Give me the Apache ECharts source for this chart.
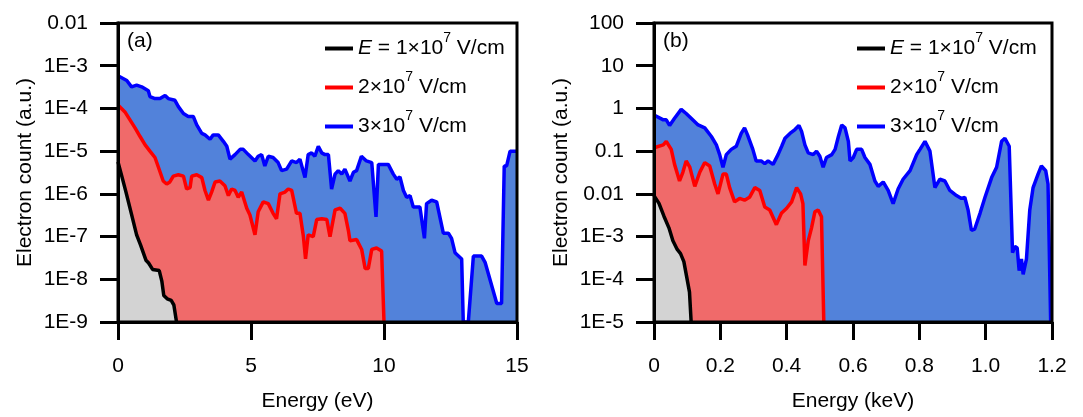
<!DOCTYPE html>
<html>
<head>
<meta charset="utf-8">
<script src="https://cdn.jsdelivr.net/npm/echarts@6/dist/echarts.min.js"></script>
<style>
  html, body { margin: 0; padding: 0; background: #fff; }
  #chart { width: 1083px; height: 417px; }
</style>
</head>
<body>
<div id="chart"></div>
<script>
// 面板 (a): 能量 (eV) 与电子计数
const leftBlueE = [0, 0.33, 0.51, 0.70, 0.89, 1.14, 1.20, 1.39, 1.58, 1.77, 1.89, 2.14, 2.27, 2.46, 2.64, 2.83, 2.96, 3.15, 3.27, 3.46, 3.58, 3.77, 3.96, 4.09, 4.21, 4.40, 4.59, 4.71, 4.90, 5.15, 5.27, 5.40, 5.52, 5.65, 5.83, 6.02, 6.15, 6.34, 6.53, 6.71, 6.84, 7.03, 7.15, 7.28, 7.40, 7.53, 7.66, 7.78, 7.91, 8.03, 8.16, 8.28, 8.41, 8.53, 8.72, 8.85, 8.97, 9.15, 9.34, 9.54, 9.70, 9.79, 10.16, 10.35, 10.48, 10.60, 10.73, 10.85, 10.98, 11.10, 11.35, 11.52, 11.60, 11.79, 11.98, 12.23, 12.42, 12.54, 12.67, 12.92, 12.98, 13.17, 13.36, 13.67, 13.80, 14.24, 14.42, 14.52, 14.61, 14.74, 14.92, 15];
const leftBlueN = [5.8e-4, 4.5e-4, 3.2e-4, 3.5e-4, 3.2e-4, 2.6e-4, 1.9e-4, 1.7e-4, 1.7e-4, 2.0e-4, 1.7e-4, 1.55e-4, 1.1e-4, 7.6e-5, 6.5e-5, 6.5e-5, 4.1e-5, 2.6e-5, 2.4e-5, 1.9e-5, 2.4e-5, 2.4e-5, 1.7e-5, 1.3e-5, 6.5e-6, 8.3e-6, 1.1e-5, 1.1e-5, 8.3e-6, 5.9e-6, 7.6e-6, 8.3e-6, 4.5e-6, 7.6e-6, 7.1e-6, 5.4e-6, 3.5e-6, 3.8e-6, 5.9e-6, 5.4e-6, 6.5e-6, 2.4e-6, 8.3e-6, 9.1e-6, 7.6e-6, 1.3e-5, 9.1e-6, 8.3e-6, 8.3e-6, 1.3e-6, 2.9e-6, 3.5e-6, 2.9e-6, 3.8e-6, 2.0e-6, 3.2e-6, 3.5e-6, 7.6e-6, 5.9e-6, 5.4e-6, 2.9e-7, 4.9e-6, 4.9e-6, 2.9e-6, 2.2e-6, 2.5e-6, 1.2e-6, 8.3e-7, 9.1e-7, 4.9e-7, 4.9e-7, 9.1e-8, 5.9e-7, 7.1e-7, 6.5e-7, 1.2e-7, 1.2e-7, 9.1e-8, 4.2e-8, 3.0e-8, 1e-9, 1e-9, 3.5e-8, 3.5e-8, 2.5e-8, 2.7e-9, 2.7e-9, 4.5e-6, 4.5e-6, 1e-5, 1e-5, 1e-5];

const leftRedE = [0, 0.26, 0.45, 0.64, 0.83, 1.02, 1.20, 1.39, 1.52, 1.70, 1.83, 1.95, 2.08, 2.27, 2.46, 2.58, 2.71, 2.77, 2.96, 3.15, 3.27, 3.40, 3.52, 3.65, 3.83, 4.02, 4.15, 4.27, 4.40, 4.52, 4.65, 4.84, 4.96, 5.15, 5.27, 5.46, 5.65, 5.83, 5.96, 6.09, 6.28, 6.40, 6.53, 6.71, 6.84, 6.97, 7.05, 7.15, 7.34, 7.47, 7.66, 7.85, 7.97, 8.16, 8.35, 8.53, 8.66, 8.72, 8.97, 9.16, 9.29, 9.41, 9.54, 9.72, 9.91, 10.0];
const leftRedN = [1.2e-4, 8.3e-5, 5.4e-5, 3.5e-5, 2.2e-5, 1.4e-5, 1.0e-5, 7.1e-6, 4.2e-6, 2.0e-6, 1.7e-6, 1.9e-6, 2.6e-6, 2.8e-6, 2.6e-6, 1.3e-6, 1.4e-6, 2.6e-6, 2.8e-6, 2.4e-6, 1.2e-6, 7.1e-7, 1.1e-6, 1.9e-6, 2.0e-6, 1.55e-6, 9.1e-7, 1.3e-6, 1.2e-6, 8.3e-7, 1.1e-6, 4.6e-7, 3.2e-7, 1.1e-7, 3.8e-7, 6.5e-7, 5.9e-7, 3.5e-7, 2.6e-7, 1.0e-6, 1.1e-6, 1.3e-6, 1.2e-6, 3.5e-7, 3.5e-7, 1.0e-7, 3.0e-8, 1.1e-7, 1.0e-7, 2.5e-7, 2.6e-7, 2.5e-7, 1.0e-7, 4.2e-7, 4.6e-7, 3.5e-7, 1.4e-7, 8.0e-8, 8.5e-8, 5.0e-8, 1.8e-8, 1.8e-8, 5.0e-8, 5.4e-8, 4.6e-8, 1e-9];

const leftBlackE = [0, 0.15, 0.30, 0.50, 0.70, 0.85, 1.05, 1.15, 1.22, 1.30, 1.55, 1.65, 1.72, 1.85, 2.00, 2.10, 2.20];
const leftBlackN = [5.6e-6, 2.5e-6, 1.1e-6, 3.5e-7, 1.1e-7, 6.3e-8, 2.8e-8, 2.4e-8, 2.6e-8, 1.7e-8, 1.6e-8, 8.9e-9, 4.2e-9, 3.5e-9, 3.2e-9, 2.5e-9, 1e-9];

// 面板 (b): 能量 (keV) 与电子计数
const rightBlueE = [0, 0.028, 0.037, 0.047, 0.062, 0.082, 0.097, 0.112, 0.133, 0.153, 0.173, 0.188, 0.198, 0.208, 0.218, 0.233, 0.248, 0.263, 0.273, 0.282, 0.298, 0.308, 0.323, 0.334, 0.344, 0.359, 0.374, 0.385, 0.395, 0.41, 0.425, 0.437, 0.445, 0.455, 0.465, 0.48, 0.49, 0.50, 0.51, 0.52, 0.536, 0.546, 0.556, 0.566, 0.576, 0.586, 0.591, 0.601, 0.611, 0.626, 0.636, 0.651, 0.666, 0.676, 0.691, 0.706, 0.721, 0.736, 0.751, 0.772, 0.792, 0.802, 0.817, 0.832, 0.847, 0.862, 0.877, 0.892, 0.912, 0.927, 0.937, 0.947, 0.957, 0.967, 0.983, 0.998, 1.018, 1.033, 1.048, 1.058, 1.071, 1.081, 1.088, 1.095, 1.101, 1.108, 1.113, 1.123, 1.133, 1.143, 1.158, 1.168, 1.181, 1.188, 1.196, 1.2];
const rightBlueN = [0.70, 0.54, 0.54, 0.40, 0.59, 0.95, 0.76, 0.59, 0.41, 0.35, 0.22, 0.14, 0.083, 0.042, 0.083, 0.11, 0.13, 0.26, 0.35, 0.24, 0.11, 0.059, 0.059, 0.051, 0.059, 0.049, 0.083, 0.13, 0.2, 0.26, 0.32, 0.4, 0.29, 0.14, 0.091, 0.083, 0.1, 0.076, 0.042, 0.071, 0.083, 0.11, 0.22, 0.41, 0.35, 0.17, 0.059, 0.071, 0.11, 0.11, 0.071, 0.049, 0.02, 0.015, 0.019, 0.012, 0.0059, 0.013, 0.022, 0.035, 0.083, 0.11, 0.17, 0.1, 0.014, 0.022, 0.02, 0.012, 0.0091, 0.0078, 0.0083, 0.0042, 0.0014, 0.0015, 0.0035, 0.0083, 0.024, 0.042, 0.17, 0.2, 0.13, 4.2e-4, 5.9e-4, 5.4e-4, 1.6e-4, 3.0e-4, 1.3e-4, 3.0e-4, 0.0042, 0.014, 0.029, 0.045, 0.035, 0.017, 1e-5, 1e-5];

const rightRedE = [0, 0.028, 0.037, 0.052, 0.062, 0.077, 0.087, 0.097, 0.108, 0.123, 0.138, 0.153, 0.168, 0.183, 0.193, 0.208, 0.218, 0.228, 0.243, 0.258, 0.273, 0.288, 0.304, 0.319, 0.334, 0.349, 0.369, 0.384, 0.40, 0.415, 0.43, 0.442, 0.449, 0.455, 0.465, 0.475, 0.485, 0.495, 0.505, 0.512];
const rightRedN = [0.12, 0.14, 0.17, 0.11, 0.049, 0.02, 0.032, 0.059, 0.042, 0.015, 0.032, 0.054, 0.045, 0.017, 0.01, 0.029, 0.029, 0.014, 0.0065, 0.0078, 0.0071, 0.0083, 0.014, 0.012, 0.0049, 0.0042, 0.0019, 0.0035, 0.0046, 0.0065, 0.014, 0.01, 0.0059, 2.1e-4, 7.9e-4, 0.0016, 0.0038, 0.0042, 0.0029, 1e-5];

const rightBlackE = [0, 0.015, 0.03, 0.045, 0.057, 0.07, 0.08, 0.09, 0.098, 0.107, 0.112];
const rightBlackN = [0.0091, 0.006, 0.003, 0.0016, 8e-4, 5e-4, 4e-4, 2.6e-4, 1.2e-4, 5e-5, 1e-5];

// 刻度标签
const leftYLabels = ['1E-9', '1E-8', '1E-7', '1E-6', '1E-5', '1E-4', '1E-3', '0.01'];
const rightYLabels = ['1E-5', '1E-4', '1E-3', '0.01', '0.1', '1', '10', '100'];
const leftXTicks = [0, 5, 10, 15];
const leftXLabels = ['0', '5', '10', '15'];
const rightXTicks = [0, 0.2, 0.4, 0.6, 0.8, 1.0, 1.2];
const rightXLabels = ['0', '0.2', '0.4', '0.6', '0.8', '1.0', '1.2'];

const seriesNames = ['e1', 'e2', 'e3'];
const legendLabels = ['{i|E} = 1×10{sup|7} V/cm', '2×10{sup|7} V/cm', '3×10{sup|7} V/cm'];

const FONT = 'Liberation Sans, Arial, sans-serif';
const FS = 21;
const lineColors = ['#000000', '#ff0000', '#0000ff'];
const fillColors = ['#d3d3d3', '#f06a6a', '#5282da'];

function zip(xs, ys) {
    return xs.map((x, i) => [x, ys[i]]);
}

function xLabel(ticks, labels) {
    return function (v) {
        const i = ticks.findIndex(t => Math.abs(t - v) < 1e-6);
        return i >= 0 ? labels[i] : '';
    };
}

function yLabel(labels, minExp) {
    return function (v) {
        const e = Math.round(Math.log10(v)) - minExp;
        return labels[e] || '';
    };
}

function makeXAxis(idx, max, interval, name, ticks, labels) {
    return {
        gridIndex: idx, type: 'value', min: 0, max: max, interval: interval,
        name: name, nameLocation: 'middle', nameGap: 69,
        nameTextStyle: { color: '#000', fontSize: FS, fontFamily: FONT },
        axisLine: { lineStyle: { color: '#000', width: 3 } },
        axisTick: { inside: false, length: 18, lineStyle: { color: '#000', width: 3 } },
        axisLabel: { margin: 34, color: '#000', fontSize: FS, fontFamily: FONT, formatter: xLabel(ticks, labels) },
        splitLine: { show: false },
        z: 10
    };
}

function makeYAxis(idx, min, max, minExp, labels) {
    return {
        gridIndex: idx, type: 'log', logBase: 10, min: min, max: max, splitNumber: 7,
        name: 'Electron count (a.u.)', nameLocation: 'middle', nameGap: 82,
        nameTextStyle: { color: '#000', fontSize: FS, fontFamily: FONT },
        axisLine: { lineStyle: { color: '#000', width: 3 } },
        axisTick: { inside: false, length: 18, lineStyle: { color: '#000', width: 3 } },
        axisLabel: { margin: 30, color: '#000', fontSize: FS, fontFamily: FONT, formatter: yLabel(labels, minExp) },
        splitLine: { show: false },
        minorTick: { show: false },
        z: 10
    };
}

function makeSeries(idx, k, xs, ys) {
    return {
        name: seriesNames[k], type: 'line', xAxisIndex: idx, yAxisIndex: idx,
        data: zip(xs, ys), showSymbol: false, symbol: 'none',
        lineStyle: { color: lineColors[k], width: 3.5 },
        itemStyle: { color: lineColors[k] },
        areaStyle: { color: fillColors[k], opacity: 1, origin: 'start' },
        z: 5 - k
    };
}

function makeLegend(left) {
    return {
        left: left, top: 31, orient: 'vertical', padding: 0, itemGap: 4,
        itemWidth: 28, itemHeight: 4, icon: 'rect',
        data: seriesNames,
        formatter: name => legendLabels[seriesNames.indexOf(name)],
        textStyle: {
            color: '#000', fontSize: FS, fontFamily: FONT, lineHeight: 35,
            rich: {
                i: { fontStyle: 'italic', fontSize: FS, fontFamily: FONT, lineHeight: 35 },
                sup: { fontSize: 14, fontFamily: FONT, verticalAlign: 'top', lineHeight: 16 }
            }
        }
    };
}

const chart = echarts.init(document.getElementById('chart'));
const option = {
    animation: false,
    title: [
        { text: '(a)', left: 127, top: 31, padding: 0, textStyle: { color: '#000', fontSize: FS, fontWeight: 'normal', fontFamily: FONT } },
        { text: '(b)', left: 663, top: 31, padding: 0, textStyle: { color: '#000', fontSize: FS, fontWeight: 'normal', fontFamily: FONT } }
    ],
    legend: [makeLegend(325), makeLegend(857)],
    grid: [
        { left: 118, right: 566, top: 23, bottom: 90, show: true, borderColor: '#000', borderWidth: 3, z: 10 },
        { left: 654, right: 31, top: 23, bottom: 90, show: true, borderColor: '#000', borderWidth: 3, z: 10 }
    ],
    xAxis: [
        makeXAxis(0, 15, 5, 'Energy (eV)', leftXTicks, leftXLabels),
        makeXAxis(1, 1.2, 0.2, 'Energy (keV)', rightXTicks, rightXLabels)
    ],
    yAxis: [
        makeYAxis(0, 1e-9, 1e-2, -9, leftYLabels),
        makeYAxis(1, 1e-5, 100, -5, rightYLabels)
    ],
    series: [
        makeSeries(0, 2, leftBlueE, leftBlueN),
        makeSeries(0, 1, leftRedE, leftRedN),
        makeSeries(0, 0, leftBlackE, leftBlackN),
        makeSeries(1, 2, rightBlueE, rightBlueN),
        makeSeries(1, 1, rightRedE, rightRedN),
        makeSeries(1, 0, rightBlackE, rightBlackN)
    ]
};
chart.setOption(option);
</script>
</body>
</html>
